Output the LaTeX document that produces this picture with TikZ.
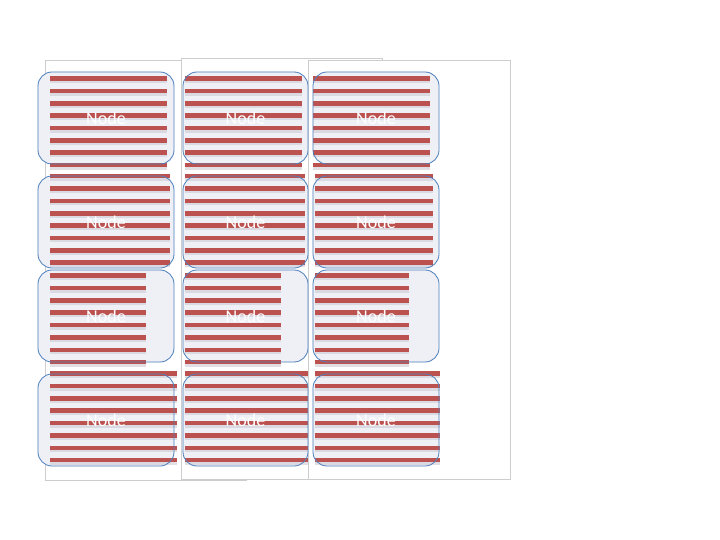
\documentclass[tikz,border=0pt]{standalone}
\usepackage{fontspec}
\setmainfont{Carlito}
\pgfdeclarelayer{bg}
\pgfsetlayers{bg,main}
\definecolor{stripered}{RGB}{188,82,80}
\definecolor{stripeshadow}{RGB}{205,200,210}
\definecolor{nodefill}{RGB}{238,240,246}
\definecolor{nodeline}{RGB}{79,129,189}
\definecolor{framegray}{RGB}{205,205,205}
\tikzset{
  nodebox/.style={draw=nodeline, line width=0.8pt, rounded corners=14pt,
    minimum width=#1, minimum height=92pt, inner sep=0pt,
    text=white, font=\fontsize{18pt}{20pt}\selectfont},
  nodebox/.default=136pt,
  nodeback/.style={fill=nodefill, rounded corners=14pt},
  framebox/.style={draw=framegray, fill=white, line width=0.9pt},
  stripebar/.style={fill=stripered},
  stripeshade/.style={fill=stripeshadow, opacity=0.6}
}
\newcommand{\stripeset}[3]{%
  \foreach \i in {0,...,7}{%
    \pgfmathsetmacro{\yy}{#3+12.35*\i}
    \path[stripeshade] (#1,\yy+2.0) rectangle (#2,\yy+4.2);
    \path[stripebar] (#1,\yy-2.6) rectangle (#2,\yy+2.0);
  }%
}
\begin{document}
\begin{tikzpicture}[x=1pt,y=-1pt]
\useasboundingbox (0,0) rectangle (720,540);
% nodes
\node[nodebox=136pt] (n11) at (106,118) {Node};
\node[nodebox=125pt] (n12) at (245.5,118) {Node};
\node[nodebox=126pt] (n13) at (376,118) {Node};
\node[nodebox=136pt] (n21) at (106,222) {Node};
\node[nodebox=125pt] (n22) at (245.5,222) {Node};
\node[nodebox=126pt] (n23) at (376,222) {Node};
\node[nodebox=136pt] (n31) at (106,316) {Node};
\node[nodebox=125pt] (n32) at (245.5,316) {Node};
\node[nodebox=126pt] (n33) at (376,316) {Node};
\node[nodebox=136pt] (n41) at (106,420) {Node};
\node[nodebox=125pt] (n42) at (245.5,420) {Node};
\node[nodebox=126pt] (n43) at (376,420) {Node};
\begin{pgfonlayer}{bg}
  % column frames
  \draw[framebox] (45,60) rectangle (246,480);
  \draw[framebox] (181,58) rectangle (382,479);
  \draw[framebox] (308,60) rectangle (510,479);
  % node fills
  \foreach \n in {n11,n12,n13,n21,n22,n23,n31,n32,n33,n41,n42,n43}{
    \path[nodeback] (\n.south west) rectangle (\n.north east);
  }
  % stripes
  \stripeset{50}{167}{79}
  \stripeset{185}{302}{79}
  \stripeset{313}{430}{79}
  \stripeset{50}{170}{176.5}
  \stripeset{185}{305}{176.5}
  \stripeset{315}{433}{176.5}
  \stripeset{50}{146}{276}
  \stripeset{185}{281}{276}
  \stripeset{315}{409}{276}
  \stripeset{50}{177}{374}
  \stripeset{185}{308}{374}
  \stripeset{315}{440}{374}
\end{pgfonlayer}
\end{tikzpicture}
\end{document}
